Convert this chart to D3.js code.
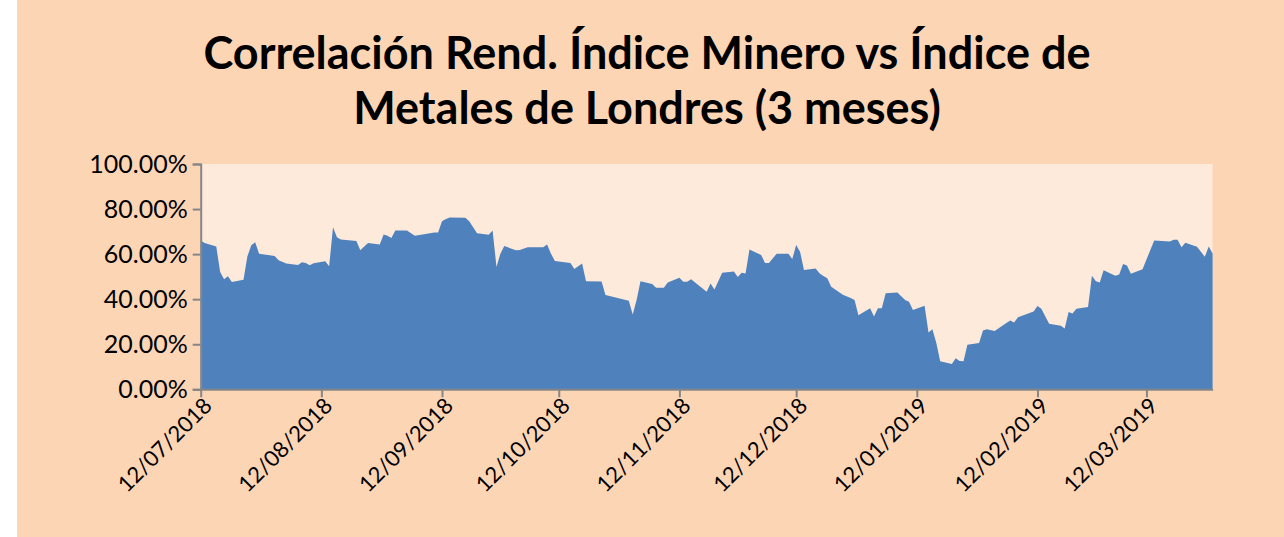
<!DOCTYPE html>
<html><head><meta charset="utf-8">
<script src="https://cdn.jsdelivr.net/npm/d3@7"></script>
<style>html,body{margin:0;padding:0;background:#fff;}</style>
</head><body>
<svg id="c" width="1284" height="537"></svg>
<script>
const titleLines = ["Correlación Rend. Índice Minero vs Índice de", "Metales de Londres (3 meses)"];
const dates = ["2018-07-12","2018-07-13","2018-07-16","2018-07-17","2018-07-18","2018-07-19","2018-07-20","2018-07-23","2018-07-24","2018-07-25","2018-07-26","2018-07-27","2018-07-31",
"2018-08-01","2018-08-03","2018-08-06","2018-08-07","2018-08-08","2018-08-09","2018-08-10","2018-08-13","2018-08-14","2018-08-15","2018-08-16","2018-08-17","2018-08-21","2018-08-22","2018-08-24","2018-08-27","2018-08-28","2018-08-29","2018-08-30","2018-08-31",
"2018-09-03","2018-09-05","2018-09-07","2018-09-10","2018-09-11","2018-09-12","2018-09-13","2018-09-14","2018-09-18","2018-09-19","2018-09-21","2018-09-24","2018-09-25","2018-09-26","2018-09-27","2018-09-28",
"2018-10-01","2018-10-02","2018-10-04","2018-10-08","2018-10-09","2018-10-10","2018-10-11","2018-10-15","2018-10-16","2018-10-18","2018-10-19","2018-10-23","2018-10-24","2018-10-30","2018-10-31",
"2018-11-01","2018-11-02","2018-11-05","2018-11-06","2018-11-08","2018-11-09","2018-11-12","2018-11-13","2018-11-14","2018-11-15","2018-11-19","2018-11-20","2018-11-21","2018-11-23","2018-11-26","2018-11-27","2018-11-28","2018-11-29","2018-11-30",
"2018-12-03","2018-12-04","2018-12-05","2018-12-07","2018-12-10","2018-12-11","2018-12-12","2018-12-13","2018-12-14","2018-12-17","2018-12-18","2018-12-19","2018-12-20","2018-12-21","2018-12-24","2018-12-26","2018-12-27","2018-12-28","2018-12-31",
"2019-01-01","2019-01-02","2019-01-03","2019-01-04","2019-01-07","2019-01-09","2019-01-10","2019-01-11","2019-01-14","2019-01-15","2019-01-16","2019-01-17","2019-01-18","2019-01-21","2019-01-22","2019-01-23","2019-01-24","2019-01-25","2019-01-28","2019-01-29","2019-01-30",
"2019-02-01","2019-02-04","2019-02-05","2019-02-06","2019-02-07","2019-02-11","2019-02-12","2019-02-13","2019-02-15","2019-02-18","2019-02-19","2019-02-20","2019-02-21","2019-02-22","2019-02-25","2019-02-26","2019-02-27","2019-02-28",
"2019-03-01","2019-03-04","2019-03-05","2019-03-06","2019-03-07","2019-03-08","2019-03-11","2019-03-14","2019-03-18","2019-03-19","2019-03-20","2019-03-21","2019-03-22","2019-03-25","2019-03-27","2019-03-28","2019-03-29"];
const values = [66.1,64.9,63.4,52.1,48.8,50.2,47.6,48.6,59.0,63.9,65.3,60.2,59.2,
57.3,55.8,55.2,56.4,56.1,55.1,55.9,56.8,54.6,71.9,67.5,66.5,65.8,61.7,64.9,64.3,68.7,68.1,67.1,70.5,
70.5,68.1,68.7,69.6,69.6,74.6,75.6,76.2,76.1,74.6,69.3,68.6,70.5,54.3,60.2,63.6,
61.7,61.8,63.0,63.1,64.3,60.2,57.0,56.1,53.4,55.8,48.0,47.9,41.9,39.3,33.2,
39.6,48.0,46.7,45.1,45.1,47.4,49.5,47.7,47.7,48.8,43.3,47.0,44.3,51.7,52.3,49.9,51.7,51.4,62.0,
59.6,56.1,56.1,60.2,60.2,57.8,64.0,61.1,52.9,53.6,51.5,50.3,49.3,45.5,42.0,40.5,39.6,32.9,36.0,
32.3,36.0,36.0,42.6,43.0,39.6,38.9,35.2,37.1,25.2,26.7,20.7,12.4,11.2,13.8,12.6,12.5,19.8,20.6,26.1,26.6,
25.9,29.4,30.5,29.6,32.0,34.5,37.0,35.8,29.1,28.2,27.0,34.3,33.6,35.8,36.5,50.4,48.0,47.4,
52.8,50.4,51.0,55.6,55.0,51.3,53.3,66.1,65.6,66.4,66.4,63.1,65.1,63.3,58.8,63.4,60.3];
const yTicks = [0,20,40,60,80,100];
const xTickDates = ["2018-07-12","2018-08-12","2018-09-12","2018-10-12","2018-11-12","2018-12-12","2019-01-12","2019-02-12","2019-03-12"];

const parse = d3.timeParse("%Y-%m-%d");
const fmt = d3.timeFormat("%d/%m/%Y");
const data = dates.map((d,i)=>({date:parse(d), v:values[i]}));

const svg = d3.select("#c");
svg.append("rect").attr("x",17).attr("y",0).attr("width",1267).attr("height",537).attr("fill","#FCD5B5");

const L=200.7, R=1212.6, T=164, B=389.3;
const x = d3.scaleTime().domain([data[0].date, data[data.length-1].date]).range([L,R]);
const y = d3.scaleLinear().domain([0,100]).range([B,T]);

svg.append("rect").attr("x",L).attr("y",T).attr("width",R-L).attr("height",B-T).attr("fill","#FDEADA");

const area = d3.area().x(d=>x(d.date)).y0(y(0)).y1(d=>y(d.v));
svg.append("path").datum(data).attr("d",area).attr("fill","#4F81BD");

// title
const title = svg.append("text").attr("text-anchor","middle").attr("font-family","Lato")
  .attr("font-weight","bold").attr("font-size",45).attr("fill","#000");
titleLines.forEach((t,i)=>title.append("tspan").attr("x",647).attr("y",69+i*55).text(t));

// y axis
const yAxis = d3.axisLeft(y).tickValues(yTicks).tickSize(8).tickPadding(5).tickFormat(v=>v.toFixed(2)+"%");
const gy = svg.append("g").attr("transform",`translate(${L},0)`).call(yAxis);
gy.select(".domain").attr("stroke","#868686").attr("stroke-width",2);
gy.selectAll(".tick line").attr("stroke","#868686").attr("stroke-width",2);
gy.selectAll(".tick text").attr("font-family","Lato").attr("font-size",25).attr("fill","#000");

// x axis
const xAxis = d3.axisBottom(x).tickValues(xTickDates.map(parse)).tickSize(8).tickSizeOuter(0).tickFormat(fmt);
const gx = svg.append("g").attr("transform",`translate(0,${B})`).call(xAxis);
gx.select(".domain").attr("stroke","#868686").attr("stroke-width",2);
gx.selectAll(".tick line").attr("stroke","#868686").attr("stroke-width",2);
gx.selectAll(".tick text").attr("font-family","Lato").attr("font-size",22).attr("fill","#000")
  .attr("text-anchor","end").attr("dy",0).attr("y",0)
  .attr("transform","translate(12,18) rotate(-45)");
</script>
</body></html>
